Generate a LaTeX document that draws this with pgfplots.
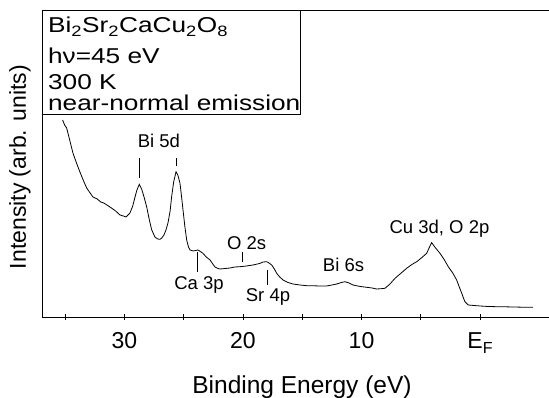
\documentclass[border=0pt]{standalone}
\usepackage{pgfplots}
\pgfplotsset{compat=1.18}
\usepackage{fontspec}
\setmainfont{Liberation Sans}
\newfontfamily\legfont{Liberation Sans}[FakeStretch=1.22]

\begin{document}
\begin{tikzpicture}
\begin{axis}[
  width=507pt, height=307pt, scale only axis,
  x dir=reverse,
  xmin=-5.82, xmax=36.96, ymin=0, ymax=307,
  axis x line*=bottom, axis y line*=left,
  ytick=\empty,
  xtick={30,20,10,0},
  xticklabels={30,20,10,{E\raisebox{-5pt}{\fontsize{16}{16}\selectfont F}}},
  minor xtick={35,25,15,5},
  tick align=center,
  major tick length=6pt, minor tick length=6pt,
  every tick/.style={black, line width=0.6pt},
  xticklabel style={font=\fontsize{23}{23}\selectfont, yshift=-9pt},
  axis line style={line width=0.8pt},
  xlabel={Binding Energy (eV)}, ylabel={Intensity (arb. units)},
  x label style={at={(axis description cs:0.5128,-0.228)}, anchor=center, font=\fontsize{24.5}{24.5}\selectfont},
  y label style={at={(axis description cs:-0.0434,0.4886)}, anchor=center, font=\fontsize{23}{23}\selectfont},
  clip=false,
]
\addplot[black, line width=0.8pt] coordinates {
(35.22,197) (35.05,192) (34.88,189) (34.6,176) (34.35,164) (34.05,154) (33.76,145) (33.45,136) (33.19,129) (32.9,124) (32.66,120) (32.3,118) (32.0,115) (31.75,114) (31.48,112) (31.1,109) (30.75,106) (30.38,102) (30.1,101) (29.87,100) (29.7,102) (29.54,104) (29.3,111) (29.11,120) (28.95,127) (28.75,132.7) (28.55,128) (28.35,120) (28.13,110.3) (27.9,97) (27.70,87) (27.43,80) (27.2,78) (27.00,77.7) (26.85,79) (26.67,82) (26.5,87) (26.33,94) (26.15,106) (26.02,120.3) (25.85,135) (25.65,145.3) (25.5,142) (25.32,134) (25.2,122) (25.06,107) (24.9,90) (24.75,77) (24.6,70) (24.47,67) (24.2,66) (23.80,67) (23.6,65.5) (23.38,63.7) (23.1,60) (22.78,57) (22.55,53) (22.36,50) (22.1,48.5) (21.94,48) (21.5,48.5) (21.10,49) (20.7,50) (20.25,50.3) (19.7,51) (19.16,52) (18.6,53.5) (18.3,55) (18.00,55.3) (17.8,54) (17.58,52) (17.35,48) (17.16,43.7) (16.9,40) (16.62,37) (16.2,34.5) (15.78,33) (15.2,32) (14.62,31.3) (14.0,31.2) (13.50,31) (12.94,31) (12.5,32) (12.09,33) (11.7,34.5) (11.39,35.3) (11.05,34) (10.72,32) (10.1,30.5) (9.56,29.7) (9.1,29) (8.72,28) (8.35,28.3) (8.02,28.7) (7.6,33) (7.17,38.7) (6.7,43.5) (6.19,48.7) (5.75,52.5) (5.34,55.3) (4.9,59.5) (4.50,63.7) (4.3,69) (4.08,74.3) (3.75,69) (3.38,63.7) (3.0,57) (2.68,50.3) (2.3,44) (1.97,37) (1.75,30) (1.54,23.7) (1.4,19) (1.27,15.3) (0.99,12) (0.5,11.5) (0,11) (-0.7,10.5) (-1.41,10.3) (-2.1,10.2) (-2.78,10) (-3.6,9.8) (-4.47,9.7)
};
% annotation markers
\addplot[black, line width=0.6pt] coordinates {(28.78,139) (28.78,159)};
\addplot[black, line width=0.6pt] coordinates {(25.65,151) (25.65,159)};
\addplot[black, line width=0.6pt] coordinates {(23.82,45.3) (23.82,65.3)};
\addplot[black, line width=0.6pt] coordinates {(20.08,55.3) (20.08,65.3)};
\addplot[black, line width=0.6pt] coordinates {(17.92,32) (17.92,47)};
% annotation labels
\node[anchor=base, font=\fontsize{18.5}{18.5}\selectfont] at (axis cs:27.09,169) {Bi 5d};
\node[anchor=base, font=\fontsize{18.5}{18.5}\selectfont] at (axis cs:23.71,27) {Ca 3p};
\node[anchor=base, font=\fontsize{18.5}{18.5}\selectfont] at (axis cs:19.70,67) {O 2s};
\node[anchor=base, font=\fontsize{18.5}{18.5}\selectfont] at (axis cs:17.89,15) {Sr 4p};
\node[anchor=base, font=\fontsize{18.5}{18.5}\selectfont] at (axis cs:11.52,45.3) {Bi 6s};
\node[anchor=base, font=\fontsize{18.5}{18.5}\selectfont] at (axis cs:3.42,83.7) {Cu 3d, O 2p};
% top line and info box
\draw[line width=0.8pt] (rel axis cs:0,1) -- (rel axis cs:1,1);
\draw[line width=0.8pt] (axis cs:15.19,307) -- (axis cs:15.19,203) -- (axis cs:36.96,203);
\node[anchor=base west, inner sep=0pt, font=\legfont\fontsize{21.5}{21.5}\selectfont] at (axis cs:36.46,284) {Bi\textsubscript{2}Sr\textsubscript{2}CaCu\textsubscript{2}O\textsubscript{8}};
\node[anchor=base west, inner sep=0pt, font=\legfont\fontsize{21.5}{21.5}\selectfont] at (axis cs:36.46,253) {hν=45 eV};
\node[anchor=base west, inner sep=0pt, font=\legfont\fontsize{21.5}{21.5}\selectfont] at (axis cs:36.46,227.5) {300 K};
\node[anchor=base west, inner sep=0pt, font=\legfont\fontsize{21.5}{21.5}\selectfont] at (axis cs:36.46,206) {near-normal emission};
\end{axis}
\pgfresetboundingbox
\path[use as bounding box] ([shift={(-42pt,-81pt)}]current axis.south west) rectangle ([shift={(0pt,10pt)}]current axis.north east);
\end{tikzpicture}
\end{document}
